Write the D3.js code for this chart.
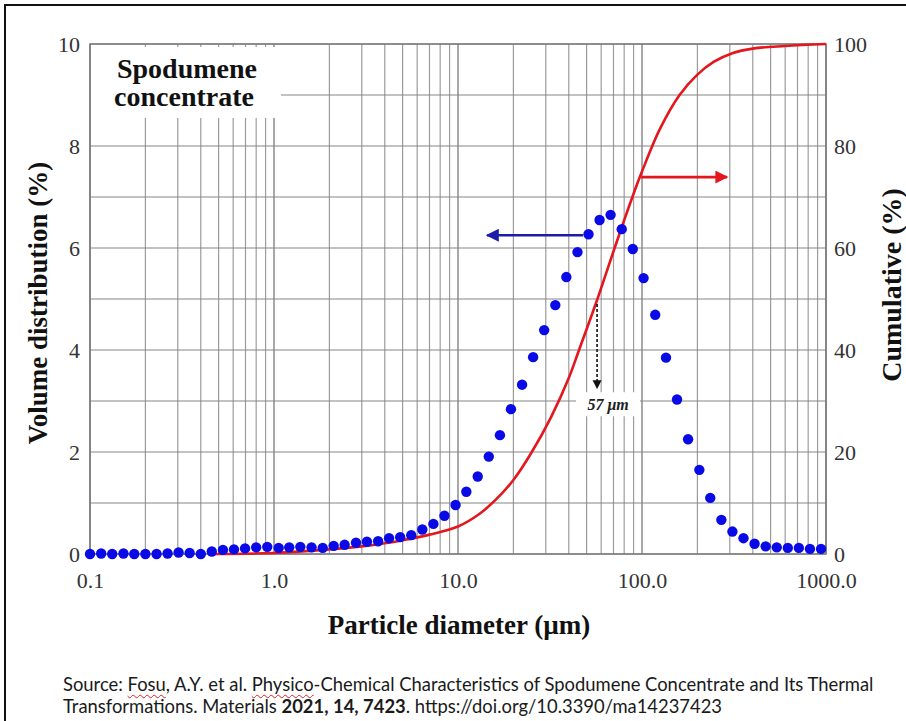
<!DOCTYPE html>
<html>
<head>
<meta charset="utf-8">
<script src="https://d3js.org/d3.v7.min.js"></script>
<style>
  body { margin: 0; background: #fff; }
  #wrap { position: relative; width: 906px; height: 721px; overflow: hidden; background: #fff; }
  #svg1 { position: absolute; left: 0; top: 0; }
  #source { position: absolute; left: 63px; top: 673px; font-family: Lato, "Open Sans", sans-serif;
            font-size: 18.4px; line-height: 22px; color: #1a1a1a; white-space: nowrap; }
  .spell { text-decoration: underline wavy #d22; text-decoration-thickness: 1px; text-underline-offset: 3px; }
</style>
</head>
<body>
<div id="wrap">
<svg id="svg1" width="906" height="721"></svg>
<div id="source">Source: <span class="spell">Fosu</span>, A.Y. et al. <span class="spell">Physico</span>-Chemical Characteristics of Spodumene Concentrate and Its Thermal<br>Transformations. Materials <b>2021, 14, 7423</b>. https://doi.org/10.3390/ma14237423</div>
</div>
<script>
//DATA
//particle diameters of the measured size classes (um)
var diameter = [0.100, 0.115, 0.132, 0.152, 0.174, 0.200, 0.230, 0.264, 0.303, 0.348,
                0.400, 0.459, 0.528, 0.606, 0.696, 0.800, 0.919, 1.06, 1.21, 1.39,
                1.60, 1.84, 2.11, 2.42, 2.79, 3.20, 3.68, 4.22, 4.85, 5.57,
                6.40, 7.35, 8.44, 9.70, 11.1, 12.8, 14.7, 16.9, 19.4, 22.3,
                25.6, 29.4, 33.8, 38.8, 44.6, 51.2, 58.8, 67.5, 77.6, 89.1,
                102, 118, 135, 155, 178, 205, 235, 270, 310, 356,
                409, 470, 540, 620, 712, 818, 940];
//volume distribution (%)
var volume = [0.00, 0.01, 0.00, 0.01, 0.00, 0.00, 0.00, 0.01, 0.03, 0.02,
              0.00, 0.05, 0.08, 0.09, 0.11, 0.13, 0.14, 0.12, 0.13, 0.14,
              0.13, 0.12, 0.16, 0.18, 0.22, 0.24, 0.25, 0.31, 0.33, 0.37,
              0.48, 0.59, 0.75, 0.96, 1.22, 1.52, 1.91, 2.33, 2.84, 3.32,
              3.86, 4.39, 4.88, 5.43, 5.92, 6.27, 6.55, 6.65, 6.37, 5.98,
              5.41, 4.69, 3.85, 3.03, 2.25, 1.65, 1.10, 0.67, 0.44, 0.31,
              0.20, 0.15, 0.13, 0.12, 0.12, 0.10, 0.10];
//cumulative curve (um, %)
var cumDiameter = [0.45, 1.0, 2.0, 3.0, 4.0, 5.0, 7.0, 10, 13, 16, 20, 25, 32, 40, 46, 57,
                   71, 81, 94, 100, 125, 160, 200, 245, 310, 400, 600, 1000];
var cumValue = [0.0, 0.2, 0.9, 1.5, 2.1, 2.7, 3.8, 5.4, 7.8, 10.6, 14.5, 19.8, 26.8, 34.5, 40.5, 49.8,
                60.0, 66.0, 72.5, 75.0, 83.3, 90.0, 94.0, 96.5, 98.2, 99.1, 99.6, 100];

var volTicks = [0, 2, 4, 6, 8, 10];
var cumTicks = [0, 20, 40, 60, 80, 100];
var xTicks = [0.1, 1, 10, 100, 1000];
var xTickLabels = ["0.1", "1.0", "10.0", "100.0", "1000.0"];

//annotation values
var d50 = 57;
var d50Cum = 49.8;
var d50ArrowEnd = 3.25;   //on the volume axis
var blueArrow = {from: 47.8, to: 14.4, y: 6.25};
var redArrow = {from: 99, to: 290, y: 73.9};

//set up constants
var leftEdge = 90;
var rightEdge = 826;
var topEdge = 44;
var bottomEdge = 554;
var serif = "'Liberation Serif', 'DejaVu Serif', serif";

var svg = d3.select("#svg1");

//SCALES
var xScale = d3.scaleLog()
    .domain([0.1, 1000])
    .range([leftEdge, rightEdge]);
var yScale = d3.scaleLinear()
    .domain([0, 10])
    .range([bottomEdge, topEdge]);
var yCumScale = d3.scaleLinear()
    .domain([0, 100])
    .range([bottomEdge, topEdge]);

//outer border of the figure (runs off the right and bottom edges)
svg.append("rect")
    .attr("x", 5).attr("y", 5)
    .attr("width", 910).attr("height", 730)
    .attr("fill", "none")
    .attr("stroke", "#111")
    .attr("stroke-width", 2);

//GRID
var grid = svg.append("g").attr("class", "grid");
grid.selectAll(".vline")
    .data(xScale.ticks())
    .enter().append("line")
    .attr("x1", function(d) { return xScale(d); })
    .attr("x2", function(d) { return xScale(d); })
    .attr("y1", topEdge)
    .attr("y2", bottomEdge)
    .attr("stroke", function(d) {
        var l = Math.log10(d);
        return Math.abs(l - Math.round(l)) < 1e-6 ? "#6e6e6e" : "#9c9c9c";
    })
    .attr("stroke-width", 1.2);
grid.selectAll(".hline")
    .data(yScale.ticks(10))
    .enter().append("line")
    .attr("x1", leftEdge)
    .attr("x2", rightEdge)
    .attr("y1", function(d) { return yScale(d); })
    .attr("y2", function(d) { return yScale(d); })
    .attr("stroke", "#858585")
    .attr("stroke-width", 1.2);

//plot frame
svg.append("rect")
    .attr("x", leftEdge).attr("y", topEdge)
    .attr("width", rightEdge - leftEdge).attr("height", bottomEdge - topEdge)
    .attr("fill", "none")
    .attr("stroke", "#777")
    .attr("stroke-width", 1.4);

//white box behind the sample name
svg.append("rect")
    .attr("x", 91).attr("y", 47)
    .attr("width", 190).attr("height", 71)
    .attr("fill", "#fff");
svg.append("text")
    .attr("x", 187).attr("y", 78)
    .attr("text-anchor", "middle")
    .style("font-family", serif)
    .style("font-weight", "bold")
    .style("font-size", "28px")
    .style("fill", "#111")
    .text("Spodumene");
svg.append("text")
    .attr("x", 184).attr("y", 106)
    .attr("text-anchor", "middle")
    .style("font-family", serif)
    .style("font-weight", "bold")
    .style("font-size", "28px")
    .style("fill", "#111")
    .text("concentrate");

//AXES (labels only, the grid does the lines)
var y_axis = d3.axisLeft(yScale).tickValues(volTicks).tickSize(0).tickPadding(10);
var y2_axis = d3.axisRight(yCumScale).tickValues(cumTicks).tickSize(0).tickPadding(8);
var x_axis = d3.axisBottom(xScale).tickValues(xTicks).tickSize(0).tickPadding(18)
    .tickFormat(function(d, i) { return xTickLabels[i]; });

svg.append("g").attr("class", "yAxis")
    .attr("transform", "translate(" + leftEdge + ",0)")
    .call(y_axis);
svg.append("g").attr("class", "yAxis")
    .attr("transform", "translate(" + rightEdge + ",0)")
    .call(y2_axis);
svg.append("g").attr("class", "xAxis")
    .attr("transform", "translate(0," + bottomEdge + ")")
    .call(x_axis);
svg.selectAll(".yAxis .domain, .xAxis .domain").remove();
svg.selectAll(".yAxis text, .xAxis text")
    .style("font-family", serif)
    .style("font-size", "22px")
    .style("fill", "#333");

//axis titles
svg.append("text")
    .attr("transform", "translate(47,303) rotate(-90)")
    .attr("text-anchor", "middle")
    .style("font-family", serif).style("font-weight", "bold").style("font-size", "27px")
    .style("fill", "#111")
    .text("Volume distribution (%)");
svg.append("text")
    .attr("transform", "translate(901,285) rotate(-90)")
    .attr("text-anchor", "middle")
    .style("font-family", serif).style("font-weight", "bold").style("font-size", "28px")
    .style("fill", "#111")
    .text("Cumulative (%)");
svg.append("text")
    .attr("x", 459).attr("y", 634)
    .attr("text-anchor", "middle")
    .style("font-family", serif).style("font-weight", "bold").style("font-size", "27px")
    .style("fill", "#111")
    .text("Particle diameter (\u00b5m)");

//arrow heads
var defs = svg.append("defs");
[["headBlue", "#1c1ca8"], ["headRed", "#e3171d"], ["headBlack", "#111"]].forEach(function(m) {
    defs.append("marker")
        .attr("id", m[0])
        .attr("viewBox", "0 0 10 10")
        .attr("refX", 9).attr("refY", 5)
        .attr("markerUnits", "userSpaceOnUse")
        .attr("markerWidth", m[0] == "headBlack" ? 9 : 16)
        .attr("markerHeight", m[0] == "headBlack" ? 11 : 13)
        .attr("orient", "auto")
        .append("path")
        .attr("d", "M0,0 L10,5 L0,10 Z")
        .attr("fill", m[1]);
});

//CUMULATIVE CURVE
var cumData = cumDiameter.map(function(d, i) { return [d, cumValue[i]]; });
var cumLine = d3.line()
    .x(function(d) { return xScale(d[0]); })
    .y(function(d) { return yCumScale(d[1]); })
    .curve(d3.curveCatmullRom.alpha(0.5));
svg.append("path")
    .datum(cumData)
    .attr("d", cumLine)
    .attr("fill", "none")
    .attr("stroke", "#e3171d")
    .attr("stroke-width", 2.6);

//D50 annotation
svg.append("line")
    .attr("x1", xScale(d50)).attr("x2", xScale(d50))
    .attr("y1", yCumScale(d50Cum) + 4)
    .attr("y2", yScale(d50ArrowEnd))
    .attr("stroke", "#111")
    .attr("stroke-width", 1.6)
    .attr("stroke-dasharray", "3,2")
    .attr("marker-end", "url(#headBlack)");
svg.append("rect")
    .attr("x", xScale(d50) - 21).attr("y", yScale(d50ArrowEnd) + 4)
    .attr("width", 64).attr("height", 24)
    .attr("fill", "#fff");
svg.append("text")
    .attr("x", xScale(d50) + 11).attr("y", yScale(d50ArrowEnd) + 22)
    .attr("text-anchor", "middle")
    .style("font-family", serif).style("font-style", "italic").style("font-weight", "bold")
    .style("font-size", "16px")
    .style("fill", "#222")
    .text(d50 + " \u03bcm");

//series arrows
svg.append("line")
    .attr("x1", xScale(blueArrow.from)).attr("x2", xScale(blueArrow.to))
    .attr("y1", yScale(blueArrow.y)).attr("y2", yScale(blueArrow.y))
    .attr("stroke", "#1c1ca8").attr("stroke-width", 2.6)
    .attr("marker-end", "url(#headBlue)");
svg.append("line")
    .attr("x1", xScale(redArrow.from)).attr("x2", xScale(redArrow.to))
    .attr("y1", yCumScale(redArrow.y)).attr("y2", yCumScale(redArrow.y))
    .attr("stroke", "#e3171d").attr("stroke-width", 2.6)
    .attr("marker-end", "url(#headRed)");

//VOLUME DOTS
svg.append("g")
    .selectAll("circle")
    .data(volume)
    .enter().append("circle")
    .attr("cx", function(d, i) { return xScale(diameter[i]); })
    .attr("cy", function(d) { return yScale(d); })
    .attr("r", 5.2)
    .attr("fill", "#0a0ae6");
</script>
</body>
</html>
